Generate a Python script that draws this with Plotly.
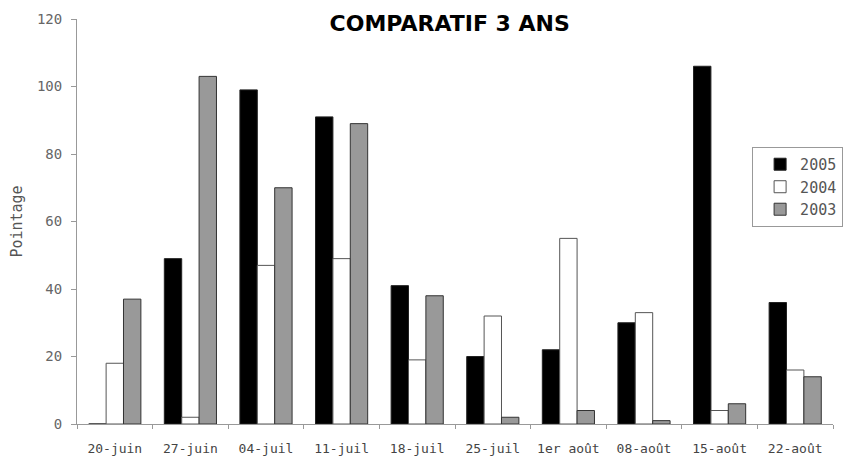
import plotly.graph_objects as go

categories = ["20-juin", "27-juin", "04-juil", "11-juil", "18-juil",
              "25-juil", "1er août", "08-août", "15-août", "22-août"]
v2005 = [0, 49, 99, 91, 41, 20, 22, 30, 106, 36]
v2004 = [18, 2, 47, 49, 19, 32, 55, 33, 4, 16]
v2003 = [37, 103, 70, 89, 38, 2, 4, 1, 6, 14]
y_ticks = [0, 20, 40, 60, 80, 100, 120]

MONO = "DejaVu Sans Mono, monospace"

fig = go.Figure()
fig.add_trace(go.Bar(name="2005", x=categories, y=v2005,
                     marker=dict(color="#000000", line=dict(color="#222222", width=1))))
fig.add_trace(go.Bar(name="2004", x=categories, y=v2004,
                     marker=dict(color="#ffffff", line=dict(color="#555555", width=1))))
fig.add_trace(go.Bar(name="2003", x=categories, y=v2003,
                     marker=dict(color="#999999", line=dict(color="#333333", width=1))))

# the page body has an 8px default margin, so the figure is sized to fit
fig.update_layout(
    width=843, height=452,
    margin=dict(l=69, r=18, t=11, b=36, autoexpand=False),
    paper_bgcolor="white", plot_bgcolor="white",
    barmode="group", bargap=0.31, bargroupgap=0,
    font=dict(family=MONO, size=13, color="#444444"),
    title=dict(text="<b>COMPARATIF 3 ANS</b>", x=0.524, xanchor="center",
               y=0.967, yanchor="middle",
               font=dict(family="DejaVu Sans, sans-serif", size=22, color="#000000")),
    legend=dict(x=0.893, xanchor="left", y=0.684, yanchor="top",
                bordercolor="#999999", borderwidth=1, bgcolor="white",
                font=dict(family=MONO, size=15, color="#555555"), itemwidth=30,
                indentation=7, tracegroupgap=2),
    showlegend=True,
)
fig.update_xaxes(
    type="category", tickson="boundaries", ticks="outside", ticklen=4,
    tickcolor="#999999", showline=True, linecolor="#999999", linewidth=1,
    showgrid=False, tickfont=dict(family=MONO, size=13, color="#444444"),
    ticklabelstandoff=12, automargin=False,
)
fig.update_yaxes(
    range=[0, 120], tickvals=y_ticks, ticks="outside", ticklen=5,
    tickcolor="#999999", showline=True, linecolor="#999999", linewidth=1,
    showgrid=False, zeroline=False,
    tickfont=dict(family=MONO, size=14, color="#666666"),
    ticklabelstandoff=6, automargin=False,
    title=dict(text="Pointage", font=dict(family=MONO, size=15, color="#555555"),
               standoff=10),
)

fig.write_html("out.html")
